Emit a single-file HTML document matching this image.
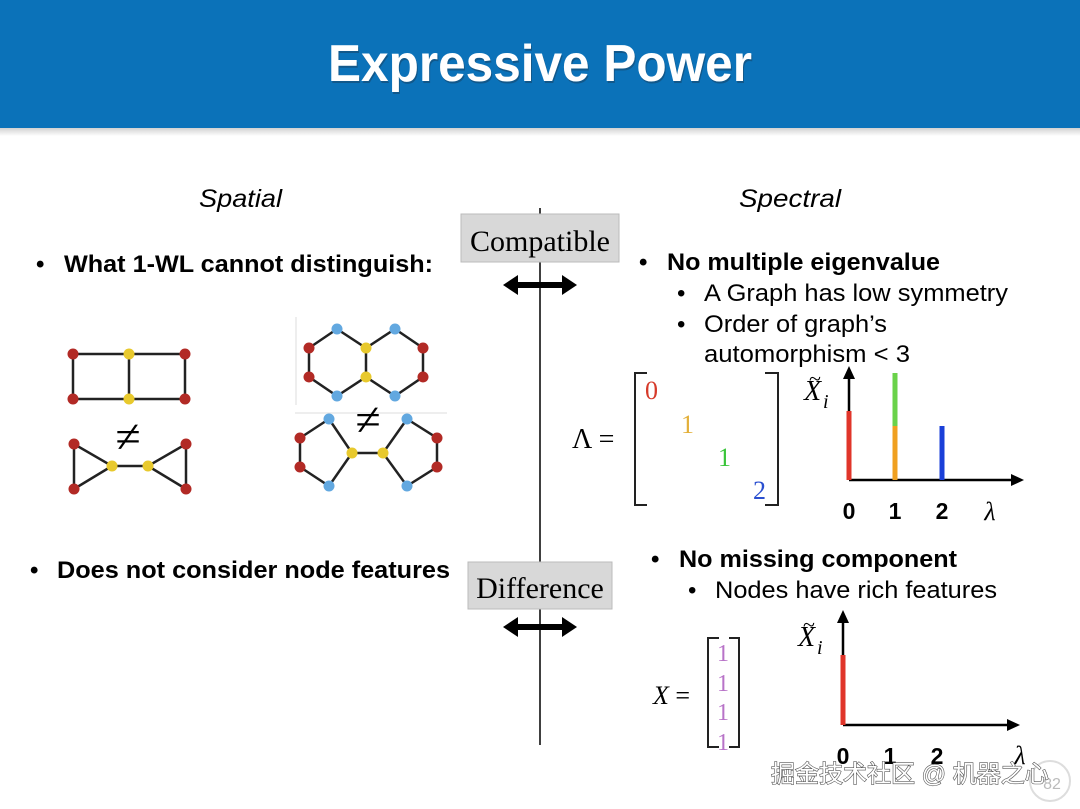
<!DOCTYPE html>
<html><head><meta charset="utf-8"><style>
body{margin:0;width:1080px;height:809px;overflow:hidden;background:#fff}
svg{display:block}
.s{font-family:"Liberation Sans",sans-serif}
.m{font-family:"Liberation Serif",serif}
</style></head><body>
<svg width="1080" height="809" viewBox="0 0 1080 809" xmlns="http://www.w3.org/2000/svg">
<defs>
<linearGradient id="sh" x1="0" y1="0" x2="0" y2="1"><stop offset="0" stop-color="#000" stop-opacity="0.18"/><stop offset="1" stop-color="#000" stop-opacity="0"/></linearGradient>
<marker id="ah" markerWidth="14" markerHeight="14" refX="10" refY="6" orient="auto" markerUnits="userSpaceOnUse"><path d="M0,0 L13,6 L0,12 z" fill="#000"/></marker>
</defs>
<rect x="0" y="0" width="1080" height="128" fill="#0b72b9"/>
<rect x="0" y="128" width="1080" height="8" fill="url(#sh)"/>
<text x="541" y="83" text-anchor="middle" class="s" font-size="52" font-weight="bold" fill="#1a3a55" opacity="0.45" textLength="424" lengthAdjust="spacingAndGlyphs">Expressive Power</text>
<text x="540" y="81" text-anchor="middle" class="s" font-size="52" font-weight="bold" fill="#fff" textLength="424" lengthAdjust="spacingAndGlyphs">Expressive Power</text>

<text x="199" y="207" class="s" font-size="25" font-style="italic" textLength="83" lengthAdjust="spacingAndGlyphs">Spatial</text>
<text x="739" y="207" class="s" font-size="25" font-style="italic" textLength="102" lengthAdjust="spacingAndGlyphs">Spectral</text>

<line x1="540" y1="208" x2="540" y2="745" stroke="#000" stroke-width="1.5"/>
<rect x="461" y="214" width="158" height="48" fill="#d8d8d8" stroke="#bbb"/>
<text x="540" y="251" text-anchor="middle" class="m" font-size="30">Compatible</text>
<rect x="468" y="562" width="144" height="47" fill="#d8d8d8" stroke="#bbb"/>
<text x="540" y="598" text-anchor="middle" class="m" font-size="30">Difference</text>
<g fill="#000">
<path d="M503,285 L518,275 L518,282 L562,282 L562,275 L577,285 L562,295 L562,288 L518,288 L518,295 z"/>
<path d="M503,627 L518,617 L518,624 L562,624 L562,617 L577,627 L562,637 L562,630 L518,630 L518,637 z"/>
</g>

<g class="s" font-size="24" font-weight="bold">
<text x="36" y="272">•</text><text x="64" y="272" textLength="369" lengthAdjust="spacingAndGlyphs">What 1-WL cannot distinguish:</text>
<text x="30" y="578">•</text><text x="57" y="578" textLength="393" lengthAdjust="spacingAndGlyphs">Does not consider node features</text>
<text x="639" y="270">•</text><text x="667" y="270" textLength="273" lengthAdjust="spacingAndGlyphs">No multiple eigenvalue</text>
<text x="651" y="567">•</text><text x="679" y="567" textLength="278" lengthAdjust="spacingAndGlyphs">No missing component</text>
</g>
<g class="s" font-size="24">
<text x="677" y="301">•</text><text x="704" y="301" textLength="304" lengthAdjust="spacingAndGlyphs">A Graph has low symmetry</text>
<text x="677" y="332">•</text><text x="704" y="332" textLength="183" lengthAdjust="spacingAndGlyphs">Order of graph’s</text>
<text x="704" y="362" textLength="206" lengthAdjust="spacingAndGlyphs">automorphism &lt; 3</text>
<text x="688" y="598">•</text><text x="715" y="598" textLength="282" lengthAdjust="spacingAndGlyphs">Nodes have rich features</text>
</g>

<g stroke="#222" stroke-width="2.5" fill="none">
<path d="M73,354 H185 V399 H73 Z M129,354 V399"/>
<path d="M74,444 L74,489 L112,466 Z M186,444 L186,489 L148,466 Z M112,466 H148"/>
<path d="M337,329 L309,348 L309,377 L337,396 L366,377 L395,396 L423,377 L423,348 L395,329 L366,348 L337,329 M366,348 V377"/>
<path d="M329,419 L300,438 L300,467 L329,486 L352,453 L329,419 M352,453 H383 M407,419 L437,438 L437,467 L407,486 L383,453 L407,419"/>
</g>
<g stroke="#ddd" stroke-width="1"><line x1="296" y1="317" x2="296" y2="405"/><line x1="295" y1="413" x2="447" y2="413"/></g>
<g fill="#b22a25">
<circle cx="73" cy="354" r="5.5"/><circle cx="185" cy="354" r="5.5"/><circle cx="73" cy="399" r="5.5"/><circle cx="185" cy="399" r="5.5"/>
<circle cx="74" cy="444" r="5.5"/><circle cx="186" cy="444" r="5.5"/><circle cx="74" cy="489" r="5.5"/><circle cx="186" cy="489" r="5.5"/>
<circle cx="309" cy="348" r="5.5"/><circle cx="423" cy="348" r="5.5"/><circle cx="309" cy="377" r="5.5"/><circle cx="423" cy="377" r="5.5"/>
<circle cx="300" cy="438" r="5.5"/><circle cx="437" cy="438" r="5.5"/><circle cx="300" cy="467" r="5.5"/><circle cx="437" cy="467" r="5.5"/>
</g>
<g fill="#e8c92d">
<circle cx="129" cy="354" r="5.5"/><circle cx="129" cy="399" r="5.5"/><circle cx="112" cy="466" r="5.5"/><circle cx="148" cy="466" r="5.5"/>
<circle cx="366" cy="348" r="5.5"/><circle cx="366" cy="377" r="5.5"/><circle cx="352" cy="453" r="5.5"/><circle cx="383" cy="453" r="5.5"/>
</g>
<g fill="#62a8e0">
<circle cx="337" cy="329" r="5.5"/><circle cx="395" cy="329" r="5.5"/><circle cx="337" cy="396" r="5.5"/><circle cx="395" cy="396" r="5.5"/>
<circle cx="329" cy="419" r="5.5"/><circle cx="407" cy="419" r="5.5"/><circle cx="329" cy="486" r="5.5"/><circle cx="407" cy="486" r="5.5"/>
</g>
<text x="128" y="452" text-anchor="middle" class="m" font-size="46">≠</text>
<text x="368" y="435" text-anchor="middle" class="m" font-size="46">≠</text>

<text x="572" y="448" class="m" font-size="28">Λ =</text>
<path d="M647,373 H635 V505 H647 M765,373 H778 V505 H765" fill="none" stroke="#222" stroke-width="2"/>
<g class="m" font-size="26">
<text x="645" y="399" fill="#d63a2a">0</text>
<text x="681" y="433" fill="#e3b03a">1</text>
<text x="718" y="466" fill="#3ac53a">1</text>
<text x="753" y="499" fill="#2a4fd0">2</text>
</g>
<line x1="849" y1="480" x2="849" y2="369" stroke="#000" stroke-width="2.5" marker-end="url(#ah)"/>
<line x1="849" y1="480" x2="1021" y2="480" stroke="#000" stroke-width="2.5" marker-end="url(#ah)"/>
<line x1="849" y1="411" x2="849" y2="480" stroke="#e0352a" stroke-width="5"/>
<line x1="895" y1="426" x2="895" y2="480" stroke="#f0a020" stroke-width="5"/>
<line x1="895" y1="373" x2="895" y2="426" stroke="#6ad24a" stroke-width="5"/>
<line x1="942" y1="426" x2="942" y2="480" stroke="#1a3fd8" stroke-width="5"/>
<text x="804" y="400" class="m" font-size="28" font-style="italic">X</text><text x="809" y="386" class="m" font-size="22">~</text><text x="823" y="408" class="m" font-size="20" font-style="italic">i</text>
<g class="s" font-size="23" font-weight="bold" text-anchor="middle">
<text x="849" y="519">0</text><text x="895" y="519">1</text><text x="942" y="519">2</text>
</g>
<text x="990" y="520" text-anchor="middle" class="m" font-size="26" font-style="italic">λ</text>

<text x="653" y="704" class="m" font-size="26"><tspan font-style="italic">X</tspan> =</text>
<path d="M719,638 H708 V747 H719 M729,638 H739 V747 H729" fill="none" stroke="#222" stroke-width="2"/>
<g class="m" font-size="24" fill="#b873c8" text-anchor="middle">
<text x="723" y="661">1</text><text x="723" y="691">1</text><text x="723" y="720">1</text><text x="723" y="750">1</text>
</g>
<line x1="843" y1="725" x2="843" y2="613" stroke="#000" stroke-width="2.5" marker-end="url(#ah)"/>
<line x1="843" y1="725" x2="1017" y2="725" stroke="#000" stroke-width="2.5" marker-end="url(#ah)"/>
<line x1="843" y1="655" x2="843" y2="725" stroke="#e0352a" stroke-width="5"/>
<text x="798" y="646" class="m" font-size="28" font-style="italic">X</text><text x="803" y="632" class="m" font-size="22">~</text><text x="817" y="654" class="m" font-size="20" font-style="italic">i</text>
<g class="s" font-size="23" font-weight="bold" text-anchor="middle">
<text x="843" y="764">0</text><text x="890" y="764">1</text><text x="937" y="764">2</text>
</g>
<text x="1020" y="764" text-anchor="middle" class="m" font-size="26" font-style="italic">λ</text>

<circle cx="1050" cy="781" r="20" fill="#fff" stroke="#ddd" stroke-width="2"/>
<text x="1052" y="789" text-anchor="middle" class="s" font-size="16" fill="#bbb">82</text>
<text x="771" y="782" class="s" font-family="'Liberation Sans','Noto Sans CJK SC',sans-serif" font-size="24" fill="#fff" stroke="#555" stroke-width="1.2" paint-order="stroke">掘金技术社区 @ 机器之心</text>
</svg>
</body></html>
